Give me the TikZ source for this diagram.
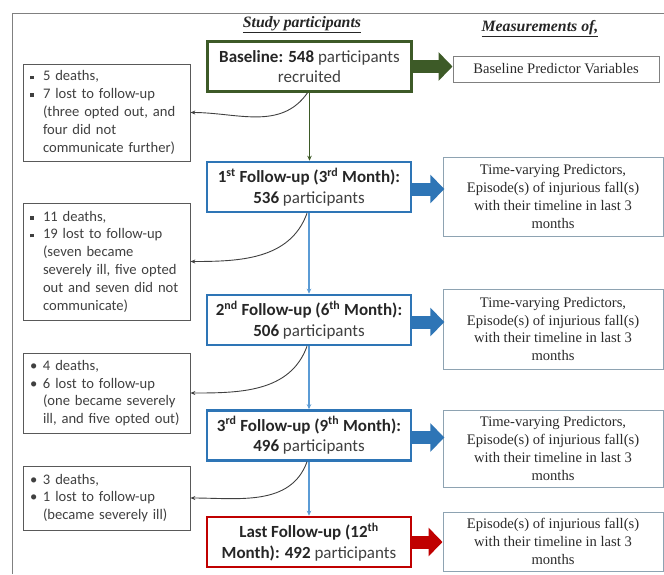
\documentclass[tikz,border=0pt]{standalone}
\usepackage{fontspec}
\setmainfont{Liberation Serif}
\newfontfamily\calfont{Carlito}
\usetikzlibrary{arrows.meta}
\definecolor{grn}{HTML}{3D5A27}
\definecolor{blu}{HTML}{2E75B6}
\definecolor{lblu}{HTML}{5B9BD5}
\definecolor{rd}{HTML}{C00000}
\definecolor{txt}{HTML}{404040}
\definecolor{stxt}{HTML}{2B2B2B}
\definecolor{dtxt}{HTML}{262626}
\definecolor{lbord}{HTML}{595959}
\definecolor{rbord}{HTML}{8EA3B2}
\definecolor{frm}{HTML}{808080}
\newcommand{\sqb}{\makebox[15pt][l]{\hspace*{2pt}\raisebox{0.22ex}{\rule{3.8pt}{3.8pt}}}}
\newcommand{\rdb}{\makebox[15pt][l]{\hspace*{2pt}\textbullet}}
\newcommand{\ind}{\hspace*{15pt}}
\newcommand{\bt}[1]{\textbf{\textcolor{dtxt}{#1}}}
\begin{document}
\begin{tikzpicture}[x=1pt,y=1pt,
  fbox/.style={line width=2.6pt, fill=white, align=center, text=txt,
    font=\calfont\fontsize{17}{20.5}\selectfont, minimum width=204pt, minimum height=50pt, inner sep=0pt},
  lbox/.style={draw=lbord, line width=0.8pt, fill=white, align=left, text=txt,
    font=\calfont\fontsize{14.6}{17.8}\selectfont, text width=157pt, inner xsep=5pt, inner ysep=0pt},
  rbox/.style={draw=rbord, line width=1pt, fill=white, align=center, text=stxt,
    font=\fontsize{14.6}{17.8}\selectfont, minimum width=220pt, inner sep=0pt},
  ttl/.style={text=dtxt, font=\fontsize{15.8}{18}\selectfont\bfseries\itshape},
  blk/.style={line width=13pt, -{Triangle[length=14pt,width=28pt]}},
  vcon/.style={-{Stealth[length=5pt,width=4.5pt]}},
  ccon/.style={draw=txt, line width=0.9pt, -{Stealth[length=5pt,width=4pt]}}
]
\useasboundingbox (0,0) rectangle (664,-574);
\draw[frm, line width=1pt] (12.5,-574) -- (12.5,-13) -- (664,-13);

% titles
\node[ttl] (t1) at (302,-25) {\underline{Study participants}};
\node[ttl] (t2) at (540,-29) {\underline{Measurements of,}};

% main column
\node[fbox, draw=grn] (b0) at (309.5,-66.5) {\bt{Baseline: 548} participants\\recruited};
\node[fbox, draw=blu] (f1) at (309,-187) {\bt{1\textsuperscript{st} Follow-up (3\textsuperscript{rd} Month):}\\\bt{536} participants};
\node[fbox, draw=blu] (f2) at (309,-320) {\bt{2\textsuperscript{nd} Follow-up (6\textsuperscript{th} Month):}\\\bt{506} participants};
\node[fbox, draw=blu] (f3) at (309,-435.5) {\bt{3\textsuperscript{rd} Follow-up (9\textsuperscript{th} Month):}\\\bt{496} participants};
\node[fbox, draw=rd] (f4) at (309,-542) {\bt{Last Follow-up (12\textsuperscript{th}}\\\bt{Month): 492} participants};

% right column
\node[rbox, draw=frm, minimum width=206pt, minimum height=26pt] (r0) at (556,-69) {Baseline Predictor Variables};
\node[rbox, minimum height=79pt] (r1) at (553,-196.5) {Time-varying Predictors,\\Episode(s) of injurious fall(s)\\with their timeline in last 3\\months};
\node[rbox, minimum height=80pt] (r2) at (553,-329) {Time-varying Predictors,\\Episode(s) of injurious fall(s)\\with their timeline in last 3\\months};
\node[rbox, minimum height=77pt] (r3) at (553,-448.5) {Time-varying Predictors,\\Episode(s) of injurious fall(s)\\with their timeline in last 3\\months};
\node[rbox, minimum height=59pt] (r4) at (553,-541.5) {Episode(s) of injurious fall(s)\\with their timeline in last 3\\months};

% left column
\node[lbox, minimum height=97pt] (l1) at (106.5,-112.5) {\sqb 5 deaths,\\\sqb 7 lost to follow-up\\\ind(three opted out, and\\\ind four did not\\\ind communicate further)};
\node[lbox, minimum height=117pt] (l2) at (106.5,-261.5) {\sqb 11 deaths,\\\sqb 19 lost to follow-up\\\ind(seven became\\\ind severely ill, five opted\\\ind out and seven did not\\\ind communicate)};
\node[lbox, minimum height=80pt] (l3) at (106.5,-393) {\rdb 4 deaths,\\\rdb 6 lost to follow-up\\\ind(one became severely\\\ind ill, and five opted out)};
\node[lbox, minimum height=64pt] (l4) at (106.5,-498) {\rdb 3 deaths,\\\rdb 1 lost to follow-up\\\ind(became severely ill)};

% block arrows
\draw[blk, grn] (b0.east) -- (b0.east -| r0.west);
\draw[blk, blu] (f1.east) ++(0,-2) -- ++(32,0);
\draw[blk, blu] (f2.east) ++(0,-2) -- ++(32,0);
\draw[blk, blu] (f3.east) ++(0,-2) -- ++(32,0);
\draw[blk, rd] (f4.east) -- (f4.east -| r4.west);

% vertical connectors
\draw[vcon, grn, line width=1.8pt] (b0.south) -- (b0.south |- f1.north);
\draw[vcon, lblu, line width=1.2pt] (f1.south) -- (f2.north);
\draw[vcon, lblu, line width=1.2pt] (f2.south) -- (f3.north);
\draw[vcon, lblu, line width=1.2pt] (f3.south) -- (f4.north);

% curved connectors
\draw[ccon] ([xshift=-2pt]b0.south) to[out=-125,in=0] (l1.east);
\draw[ccon] ([xshift=-2pt]f1.south) to[out=-110,in=0] (l2.east);
\draw[ccon] ([xshift=-2pt]f2.south) to[out=-110,in=0] (l3.east);
\draw[ccon] ([xshift=-2pt]f3.south) to[out=-110,in=0] (l4.east);
\end{tikzpicture}
\end{document}
